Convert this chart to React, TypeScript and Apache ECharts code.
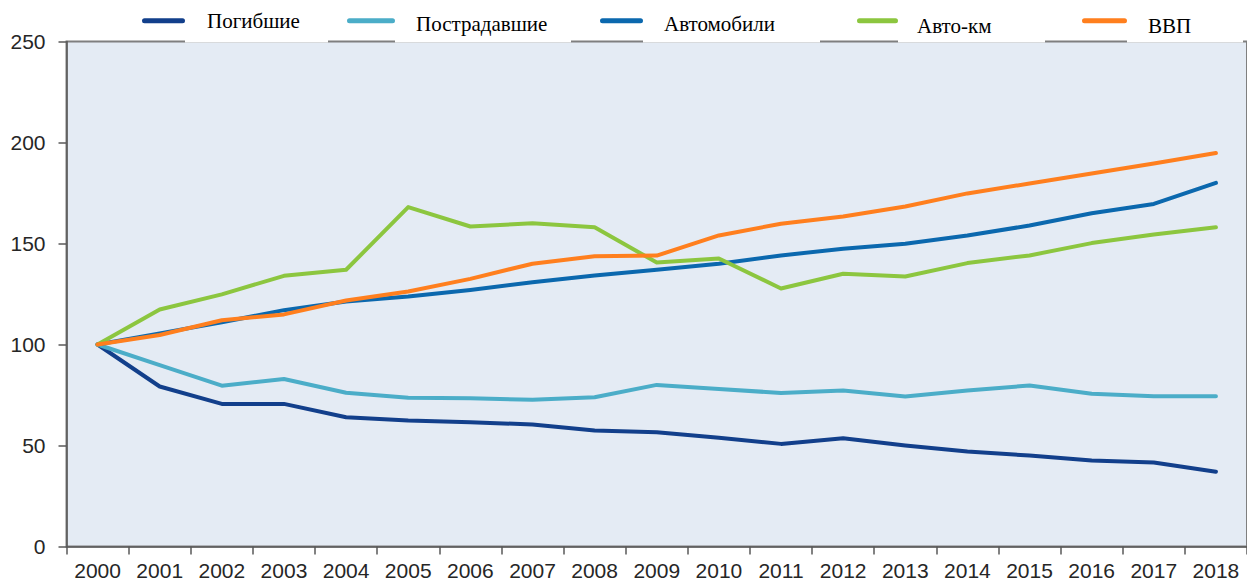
import React, { useEffect, useRef } from "react";
import * as echarts from "echarts";

const years = ["2000","2001","2002","2003","2004","2005","2006","2007","2008","2009","2010","2011","2012","2013","2014","2015","2016","2017","2018"];
const yTicks = [0, 50, 100, 150, 200, 250];

const killed = [100, 79.2, 70.6, 70.6, 64, 62.4, 61.5, 60.4, 57.4, 56.6, 53.8, 50.8, 53.6, 50, 47, 45, 42.6, 41.6, 37];
const injured = [100, 89.8, 79.6, 82.9, 76.1, 73.6, 73.4, 72.6, 73.9, 80, 78, 76, 77.2, 74.3, 77.2, 79.7, 75.6, 74.4, 74.4];
const cars = [100, 105.5, 111, 117, 121.3, 123.8, 127, 130.8, 134.2, 137, 140, 144.1, 147.4, 149.9, 154, 158.9, 165, 169.6, 180];
const vehKm = [100, 117.3, 124.8, 134, 137, 168, 158.4, 160, 158, 140.6, 142.6, 127.7, 135, 133.7, 140.3, 144.1, 150.2, 154.5, 158];
const gdp = [100, 104.7, 112, 114.9, 121.8, 126.2, 132.5, 140, 143.7, 144, 154, 159.8, 163.4, 168.3, 174.8, 179.7, 184.7, 189.6, 194.8];

const names = ["Погибшие", "Пострадавшие", "Автомобили", "Авто-км", "ВВП"];
const colors = ["#123F8B", "#4BADC8", "#0B68AE", "#8CC63F", "#FF7F1E"];
const seriesData = [killed, injured, cars, vehKm, gdp];

// legend layout: [left, textCenterY, iconWidth, iconAboveText, textPadLeft]
const legendLayout = [
  [142, 20.8, 43, 0, 17],
  [347, 23.7, 48, 3, 16],
  [600, 23.7, 43, 3, 16],
  [857, 26.3, 41, 5.6, 14],
  [1082, 26.3, 45, 5.6, 16],
];
// white boxes that cover the top border behind legend texts: [x0, x1]
const whiteBoxes = [
  [185, 328],
  [395, 571],
  [643, 820],
  [898, 1045],
  [1127, 1243],
];

function iconPath(w: number, off: number) {
  const h = 5;
  const r = 2.5;
  const total = h + 2 * off;
  let d = `M${r} 0 H${w - r} A${r} ${r} 0 0 1 ${w - r} ${h} H${r} A${r} ${r} 0 0 1 ${r} 0 Z`;
  if (off > 0) d += ` M0 ${total} L0.001 ${total} Z`;
  return { d: "path://" + d, total };
}

export default function App() {
  const ref = useRef<HTMLDivElement>(null);
  useEffect(() => {
    if (!ref.current) return;
    const chart = echarts.init(ref.current, null, { renderer: "svg" });
    const axisFont = "'Liberation Sans', Arial, sans-serif";
    const fs = 21;
    chart.setOption({
      animation: false,
      backgroundColor: "#ffffff",
      grid: {
        left: 66.5,
        top: 41.5,
        right: -4.5,
        bottom: 34.5,
        show: true,
        backgroundColor: "#E4EBF4",
        borderColor: "#7F7F7F",
        borderWidth: 2,
      },
      legend: names.map((n, i) => {
        const [left, cy, w, off, pl] = legendLayout[i];
        const ic = iconPath(w, off);
        return {
          show: true,
          data: [n],
          left,
          top: cy - fs / 2,
          padding: 0,
          itemWidth: w,
          itemHeight: ic.total,
          icon: ic.d,
          itemStyle: { borderWidth: 0 },
          selectedMode: false,
          z: 10,
          textStyle: {
            fontFamily: "'Liberation Serif', 'Times New Roman', serif",
            fontSize: fs,
            color: "#000000",
            padding: [0, 0, 0, pl],
          },
        };
      }),
      graphic: whiteBoxes.map((b) => ({
        type: "rect",
        z: 5,
        shape: { x: b[0], y: 34, width: b[1] - b[0], height: 8.6 },
        style: { fill: "#ffffff" },
        silent: true,
      })),
      xAxis: {
        type: "category",
        data: years,
        boundaryGap: true,
        axisLine: { show: true, lineStyle: { color: "#595959", width: 1.5 } },
        axisTick: { show: true, inside: false, length: 8, alignWithLabel: false, lineStyle: { color: "#595959", width: 1.5 } },
        axisLabel: { color: "#262626", fontFamily: axisFont, fontSize: 21, margin: 13, interval: 0 },
        splitLine: { show: false },
      },
      yAxis: {
        type: "value",
        min: yTicks[0],
        max: yTicks[yTicks.length - 1],
        interval: 50,
        axisLine: { show: true, lineStyle: { color: "#595959", width: 1.5 } },
        axisTick: { show: true, inside: false, length: 8, lineStyle: { color: "#595959", width: 1.5 } },
        axisLabel: { color: "#262626", fontFamily: axisFont, fontSize: 21, margin: 21 },
        splitLine: { show: false },
      },
      series: names.map((n, i) => ({
        name: n,
        type: "line",
        data: seriesData[i],
        showSymbol: false,
        symbol: "none",
        color: colors[i],
        lineStyle: { color: colors[i], width: 4, cap: "round", join: "round" },
        z: 2 + (i === 4 ? 1 : 0),
      })),
    });
    return () => chart.dispose();
  }, []);
  return (
    <div
      ref={ref}
      style={{ position: "fixed", left: 0, top: 0, width: 1247, height: 581 }}
    />
  );
}
